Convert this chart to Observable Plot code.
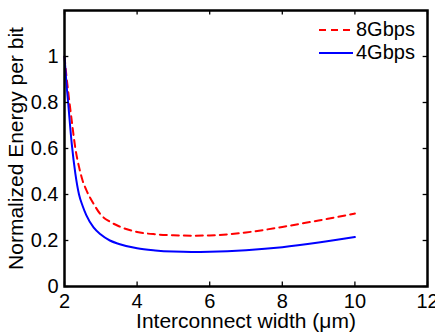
<!DOCTYPE html>
<html>
<head>
<meta charset="utf-8">
<script src="https://cdn.jsdelivr.net/npm/d3@7"></script>
<script src="https://cdn.jsdelivr.net/npm/@observablehq/plot@0.6"></script>
<style>
  html, body { margin: 0; padding: 0; background: #fff; }
  #wrap { position: relative; width: 435px; height: 332px; }
  #legend { position: absolute; left: 318px; top: 18px; font: 20px "Liberation Sans", Arial, sans-serif; color: #000; line-height: 23px; }
  #legend div { display: flex; align-items: center; height: 23px; }
  #legend svg { margin-right: 3px; }
</style>
</head>
<body>
<div id="wrap"></div>
<script>
// Interconnect width (µm)
const widths = [2.0, 2.05, 2.1, 2.2, 2.3, 2.4, 2.5, 2.6, 2.8, 3.0, 3.25, 3.5, 4.0, 4.5, 5.0, 5.5, 6.0, 7.0, 8.0, 9.0, 10.0];
// Normalized energy per bit, 8 Gbps (red dashed)
const energy8G = [1.00, 0.92, 0.85, 0.72, 0.60, 0.52, 0.46, 0.42, 0.36, 0.312, 0.282, 0.262, 0.237, 0.227, 0.223, 0.221, 0.222, 0.235, 0.259, 0.287, 0.317];
// Normalized energy per bit, 4 Gbps (blue solid)
const energy4G = [1.00, 0.89, 0.80, 0.62, 0.49, 0.40, 0.35, 0.31, 0.257, 0.226, 0.200, 0.185, 0.166, 0.157, 0.152, 0.150, 0.151, 0.158, 0.171, 0.191, 0.215];
const seriesNames = ["8Gbps", "4Gbps"];
const xTicks = [2, 4, 6, 8, 10, 12];
const yTicks = [0, 0.2, 0.4, 0.6, 0.8, 1];
const xLabel = "Interconnect width (μm)";
const yLabel = "Normalized Energy per bit";

const d8 = widths.map((w, i) => ({x: w, y: energy8G[i]}));
const d4 = widths.map((w, i) => ({x: w, y: energy4G[i]}));

const font = '"Liberation Sans", Arial, Helvetica, sans-serif';
const chart = Plot.plot({
  width: 435,
  height: 332,
  marginLeft: 64,
  marginRight: 8,
  marginTop: 10,
  marginBottom: 46,
  style: {fontFamily: font, fontSize: "20px", color: "#000", background: "#fff"},
  x: {domain: [2, 12]},
  y: {domain: [0, 1.2]},
  marks: [
    Plot.line(d8, {x: "x", y: "y", stroke: "#ff0000", strokeWidth: 2, strokeDasharray: "7,5", curve: "monotone-x"}),
    Plot.line(d4, {x: "x", y: "y", stroke: "#0000ff", strokeWidth: 2, curve: "monotone-x"}),
    // inward ticks (bottom/top, left/right)
    Plot.ruleX(xTicks, {x: d => d, y1: 0, y2: 0.02, stroke: "#000", strokeWidth: 1.3}),
    Plot.ruleX(xTicks, {x: d => d, y1: 1.2, y2: 1.18, stroke: "#000", strokeWidth: 1.3}),
    Plot.ruleY(yTicks, {y: d => d, x1: 2, x2: 2.12, stroke: "#000", strokeWidth: 1.3}),
    Plot.ruleY(yTicks, {y: d => d, x1: 12, x2: 11.88, stroke: "#000", strokeWidth: 1.3}),
    Plot.frame({stroke: "#000", strokeWidth: 2.5}),
    Plot.axisX({ticks: xTicks, tickSize: 0, tickPadding: 7, tickFormat: d => String(d), label: null, fontSize: "20px"}),
    Plot.axisY({ticks: yTicks, tickSize: 0, tickPadding: 6, tickFormat: d => String(d), label: null, fontSize: "20px"}),
    Plot.text([xLabel], {text: d => d, frameAnchor: "bottom", textAnchor: "middle", lineAnchor: "bottom", dy: 41, fontSize: 21, fill: "#000"}),
    Plot.text([yLabel], {text: d => d, frameAnchor: "left", textAnchor: "middle", lineAnchor: "middle", dx: -48, rotate: -90, fontSize: 21, fill: "#000"})
  ]
});
const wrap = document.getElementById("wrap");
wrap.appendChild(chart);

const legend = document.createElement("div");
legend.id = "legend";
const styles = [{stroke: "#ff0000", dash: "7,5"}, {stroke: "#0000ff", dash: null}];
seriesNames.forEach((name, i) => {
  const row = document.createElement("div");
  const s = styles[i];
  row.innerHTML = `<svg width="35" height="6"><line x1="1" y1="3" x2="35" y2="3" stroke="${s.stroke}" stroke-width="2" ${s.dash ? `stroke-dasharray="${s.dash}"` : ""}/></svg><span>${name}</span>`;
  legend.appendChild(row);
});
wrap.appendChild(legend);
</script>
</body>
</html>
